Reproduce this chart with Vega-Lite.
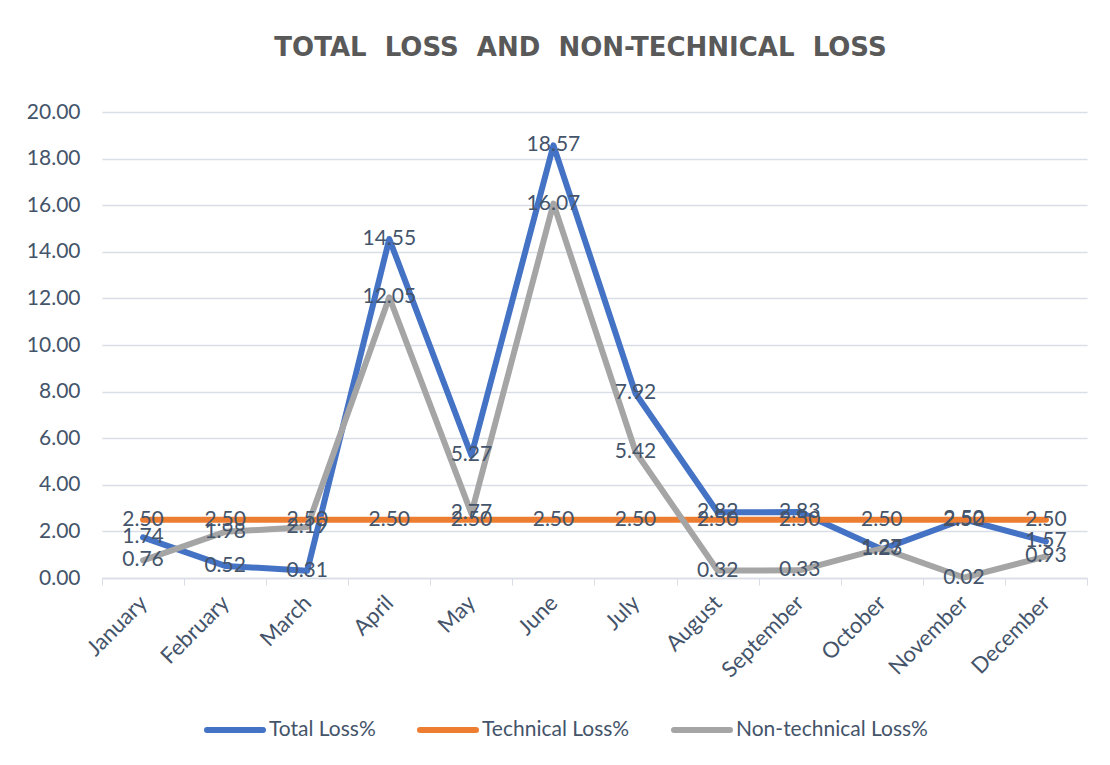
{
  "$schema": "https://vega.github.io/schema/vega-lite/v6.json",
  "width": 985,
  "height": 466,
  "autosize": {"type": "none"},
  "padding": {"left": 102, "top": 112, "right": 23, "bottom": 187},
  "background": "white",
  "title": {
    "text": "TOTAL\u00a0\u00a0LOSS\u00a0\u00a0AND\u00a0\u00a0NON-TECHNICAL\u00a0\u00a0LOSS",
    "anchor": "middle",
    "frame": "group",
    "dx": -14,
    "offset": 40,
    "font": "DejaVu Sans",
    "fontSize": 26,
    "fontWeight": "bold",
    "color": "#595959"
  },
  "config": {
    "view": {"stroke": null},
    "font": "Lato",
    "axis": {
      "labelFont": "Lato",
      "labelFontSize": 21,
      "labelColor": "#44546a",
      "gridColor": "#d9dde5",
      "domainColor": "#d9dde5",
      "tickColor": "#d9dde5",
      "title": null
    }
  },
  "data": {
    "values": [
      {"month": "January", "series": "Total Loss%", "value": 1.74},
      {"month": "February", "series": "Total Loss%", "value": 0.52},
      {"month": "March", "series": "Total Loss%", "value": 0.31},
      {"month": "April", "series": "Total Loss%", "value": 14.55},
      {"month": "May", "series": "Total Loss%", "value": 5.27},
      {"month": "June", "series": "Total Loss%", "value": 18.57},
      {"month": "July", "series": "Total Loss%", "value": 7.92},
      {"month": "August", "series": "Total Loss%", "value": 2.82},
      {"month": "September", "series": "Total Loss%", "value": 2.83},
      {"month": "October", "series": "Total Loss%", "value": 1.23},
      {"month": "November", "series": "Total Loss%", "value": 2.52},
      {"month": "December", "series": "Total Loss%", "value": 1.57},
      {"month": "January", "series": "Technical Loss%", "value": 2.5},
      {"month": "February", "series": "Technical Loss%", "value": 2.5},
      {"month": "March", "series": "Technical Loss%", "value": 2.5},
      {"month": "April", "series": "Technical Loss%", "value": 2.5},
      {"month": "May", "series": "Technical Loss%", "value": 2.5},
      {"month": "June", "series": "Technical Loss%", "value": 2.5},
      {"month": "July", "series": "Technical Loss%", "value": 2.5},
      {"month": "August", "series": "Technical Loss%", "value": 2.5},
      {"month": "September", "series": "Technical Loss%", "value": 2.5},
      {"month": "October", "series": "Technical Loss%", "value": 2.5},
      {"month": "November", "series": "Technical Loss%", "value": 2.5},
      {"month": "December", "series": "Technical Loss%", "value": 2.5},
      {"month": "January", "series": "Non-technical Loss%", "value": 0.76},
      {"month": "February", "series": "Non-technical Loss%", "value": 1.98},
      {"month": "March", "series": "Non-technical Loss%", "value": 2.19},
      {"month": "April", "series": "Non-technical Loss%", "value": 12.05},
      {"month": "May", "series": "Non-technical Loss%", "value": 2.77},
      {"month": "June", "series": "Non-technical Loss%", "value": 16.07},
      {"month": "July", "series": "Non-technical Loss%", "value": 5.42},
      {"month": "August", "series": "Non-technical Loss%", "value": 0.32},
      {"month": "September", "series": "Non-technical Loss%", "value": 0.33},
      {"month": "October", "series": "Non-technical Loss%", "value": 1.27},
      {"month": "November", "series": "Non-technical Loss%", "value": 0.02},
      {"month": "December", "series": "Non-technical Loss%", "value": 0.93}
    ]
  },
  "encoding": {
    "x": {
      "field": "month",
      "type": "nominal",
      "sort": null,
      "scale": {"domain": ["January","February","March","April","May","June","July","August","September","October","November","December"], "paddingInner": 0, "paddingOuter": 0},
      "axis": {
        "labelAngle": -45,
        "labelAlign": "right",
        "labelBaseline": "middle",
        "labelPadding": 14,
        "labelFontSize": 22,
        "tickBand": "extent",
        "tickSize": 7,
        "grid": false,
        "domainWidth": 1.5
      }
    },
    "y": {
      "field": "value",
      "type": "quantitative",
      "scale": {"domain": [0, 20], "nice": false},
      "axis": {
        "values": [0,2,4,6,8,10,12,14,16,18,20],
        "format": ".2f",
        "domain": false,
        "ticks": false,
        "labelPadding": 22,
        "gridWidth": 1.5
      }
    }
  },
  "layer": [
    {
      "mark": {"type": "line", "strokeWidth": 6, "strokeJoin": "round", "strokeCap": "round"},
      "encoding": {
        "color": {
          "field": "series",
          "type": "nominal",
          "scale": {"domain": ["Total Loss%", "Technical Loss%", "Non-technical Loss%"], "range": ["#4472C4", "#ED7D31", "#A5A5A5"]},
          "legend": {
            "title": null,
            "orient": "none",
            "direction": "horizontal",
            "legendX": 102,
            "legendY": 587,
            "symbolType": "stroke",
            "symbolSize": 3136,
            "symbolStrokeWidth": 6,
            "labelFont": "Lato",
            "labelFontSize": 21,
            "labelColor": "#44546a",
            "labelOffset": 3,
            "labelLimit": 0,
            "columnPadding": 32,
            "encode": {"symbols": {"update": {"strokeCap": {"value": "round"}}}}
          }
        }
      }
    },
    {
      "mark": {"type": "text", "font": "Lato", "fontSize": 21, "color": "#44546a", "align": "center", "baseline": "middle"},
      "encoding": {
        "text": {"field": "value", "type": "quantitative", "format": ".2f"}
      }
    }
  ]
}
